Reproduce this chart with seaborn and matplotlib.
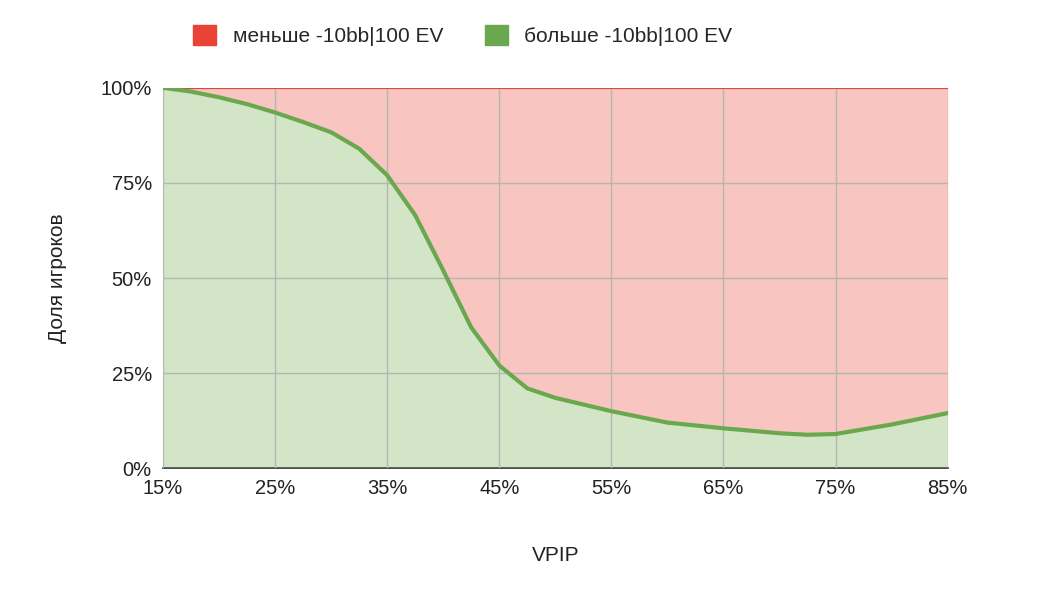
import matplotlib
matplotlib.use("Agg")
import matplotlib.pyplot as plt
import seaborn as sns
import pandas as pd
from matplotlib.patches import Patch

vpip = [15, 17.5, 20, 22.5, 25, 27.5, 30, 32.5, 35, 37.5, 40, 42.5, 45, 47.5, 50,
        55, 60, 65, 70, 72.5, 75, 80, 85]
good = [100, 99, 97.5, 95.7, 93.5, 91, 88.3, 84, 77, 66.5, 52, 37, 27, 21, 18.5,
        15, 12, 10.5, 9.2, 8.8, 9, 11.5, 14.5]
df = pd.DataFrame({"vpip": vpip, "good": good})

sns.set_theme(style="white")
plt.rcParams['font.family'] = ['Liberation Sans', 'DejaVu Sans']

fig = plt.figure(figsize=(10.38, 5.89), dpi=100)
ax = fig.add_axes([0.157, 0.205, 0.756, 0.646])

red_fill, green_fill = "#f8c5c1", "#d3e5c7"
red_line, green_line = "#ea4335", "#6aa84f"

ax.fill_between(df.vpip, df.good, 100, color=red_fill, lw=0, zorder=1)
ax.fill_between(df.vpip, 0, df.good, color=green_fill, lw=0, zorder=1)
ax.axhline(100, color=red_line, lw=1.5, zorder=3)
sns.lineplot(data=df, x="vpip", y="good", color=green_line, lw=3, ax=ax, zorder=4)

ax.set_xlim(15, 85)
ax.set_ylim(0, 100)
xt = list(range(15, 86, 10))
ax.set_xticks(xt)
ax.set_xticklabels([f"{v}%" for v in xt])
yt = [0, 25, 50, 75, 100]
ax.set_yticks(yt)
ax.set_yticklabels([f"{v}%" for v in yt])
ax.grid(True, color="#b0b8b0", lw=1, zorder=2)
ax.set_axisbelow(False)
for s in ["top", "right", "left"]:
    ax.spines[s].set_visible(False)
ax.spines["bottom"].set_color("#333333")
ax.spines["bottom"].set_linewidth(1.2)
ax.tick_params(axis="both", labelsize=14.5, colors="#222222", length=0, pad=8)
ax.set_xlabel("VPIP", fontsize=15, color="#222222", labelpad=34)
ax.set_ylabel("Доля игроков", fontsize=15, color="#222222", labelpad=24)

handles = [Patch(color=red_line, label="меньше -10bb|100 EV"),
           Patch(color=green_line, label="больше -10bb|100 EV")]
fig.legend(handles=handles, loc="upper left", bbox_to_anchor=(0.168, 0.99), ncol=2,
           frameon=False, fontsize=15, handlelength=1.1, handleheight=1.1,
           columnspacing=2.0, handletextpad=0.8)

fig.savefig("out.png", dpi=100, facecolor="white")
